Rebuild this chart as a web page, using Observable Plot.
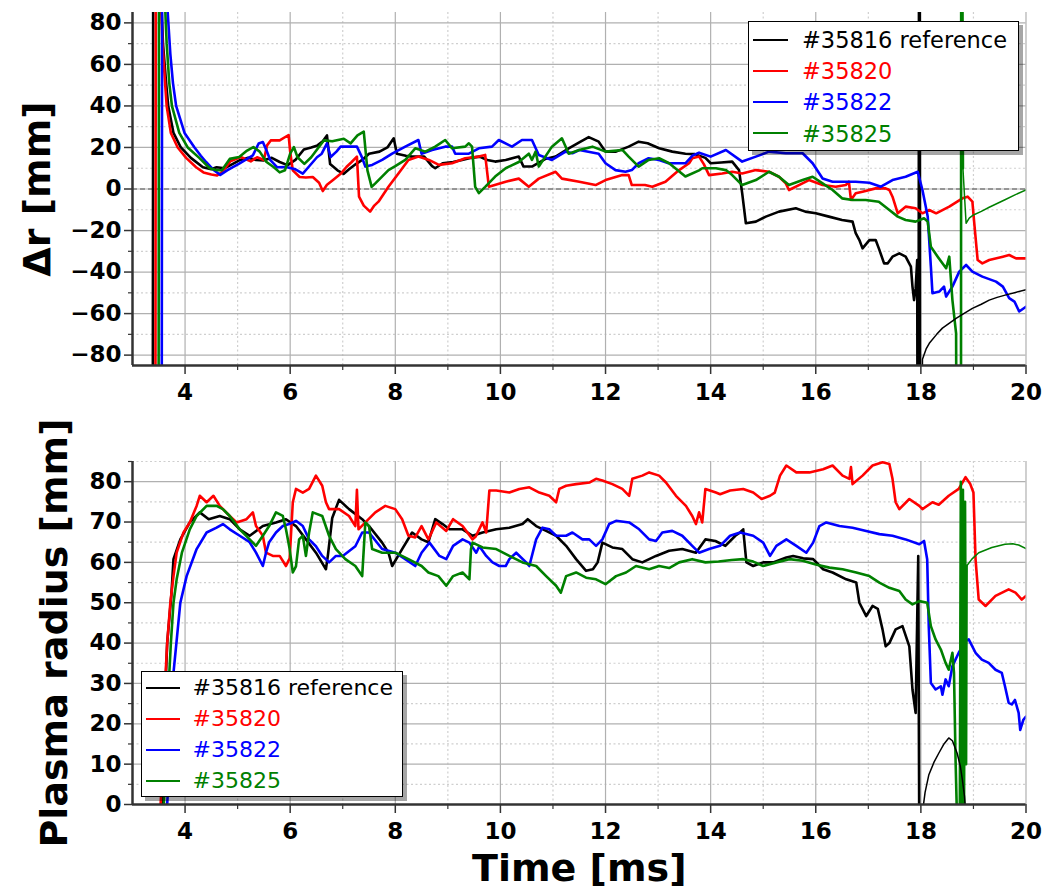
<!DOCTYPE html>
<html>
<head>
<meta charset="utf-8">
<script src="https://cdn.jsdelivr.net/npm/d3@7"></script>
<script src="https://cdn.jsdelivr.net/npm/@observablehq/plot@0.6"></script>
<style>
  body { margin: 0; background: #fff; }
  #wrap { position: relative; width: 1051px; height: 894px; background: #fff; }
  #wrap svg { display: block; overflow: visible; }
  .panel { position: absolute; left: 0; }
  .legend { position: absolute; box-sizing: border-box; background: #fff; border: 1.5px solid #000;
            box-shadow: 4px 4px 0 rgba(0,0,0,0.35); font-family: "DejaVu Sans", sans-serif; }
  .legend .ln { position: absolute; height: 2px; }
  .legend .tx { position: absolute; white-space: nowrap; }
</style>
</head>
<body>
<div id="wrap">
  <div id="top" class="panel" style="top:0"></div>
  <div id="bot" class="panel" style="top:410px"></div>
</div>
<script>
// ---------- ticks & labels ----------
const xMajor = [4, 6, 8, 10, 12, 14, 16, 18, 20];
const xMinor = [5, 7, 9, 11, 13, 15, 17, 19];
const drMajor = [-80, -60, -40, -20, 0, 20, 40, 60, 80];
const drMinor = [-70, -50, -30, -10, 10, 30, 50, 70];
const rMajor = [0, 10, 20, 30, 40, 50, 60, 70, 80];
const rMinor = [5, 15, 25, 35, 45, 55, 65, 75, 85];
const shots = ["#35816 reference", "#35820", "#35822", "#35825"];
const colors = ["#000000", "#ff0000", "#0000ff", "#008000"];

// ---------- top panel: Δr [mm] vs time [ms] ----------
const dr35816 = [[3.38,-300],[3.40,300],[3.50,120],[3.58,70],[3.64,51],[3.68,40],[3.78,27],[3.92,20],[4.11,15],[4.34,10.5],[4.5,9.5],[4.6,10.5],[4.75,10],[4.9,12],[5.05,14],[5.2,15],[5.35,14],[5.5,13.8],[5.65,15],[5.8,13],[5.95,11.5],[6.1,14],[6.26,19],[6.4,20],[6.52,21],[6.62,23],[6.7,25.8],[6.76,12],[6.9,9],[7.02,7.3],[7.12,9.5],[7.25,12],[7.37,14],[7.5,17],[7.7,18],[7.85,20],[7.97,24.4],[8.03,17],[8.2,16],[8.32,15.6],[8.55,15.6],[8.7,11],[8.76,10],[8.9,12.4],[9.1,13],[9.27,14],[9.45,15],[9.6,15.6],[9.75,14],[9.9,13.2],[10.1,14],[10.35,15.6],[10.44,10.8],[10.6,10.8],[10.85,14.4],[11.05,15.6],[11.3,19.6],[11.5,22.5],[11.68,25],[11.87,22.8],[12.0,18],[12.2,18],[12.44,20.4],[12.63,22.8],[12.8,22],[13.02,19.6],[13.27,18],[13.52,17],[13.7,16.8],[13.9,15],[14.0,12.4],[14.2,12.8],[14.41,13.2],[14.54,9.1],[14.6,-2],[14.67,-16.5],[14.86,-15.7],[15.05,-13.3],[15.3,-10.9],[15.62,-9.3],[15.8,-10.9],[16.0,-11.7],[16.25,-13.3],[16.5,-14.9],[16.7,-15.7],[16.76,-21.3],[16.83,-24.6],[16.89,-28.6],[17.02,-24.6],[17.14,-24.6],[17.2,-28.6],[17.3,-35.8],[17.37,-35.8],[17.46,-32.6],[17.59,-31],[17.71,-32.6],[17.81,-37.4],[17.84,-47],[17.87,-53.5],[17.9,-48],[17.93,-34.2],[17.95,-300],[17.97,300],[17.99,-300]];
const dr35816Tail = [[18.0,-300],[18.03,-82],[18.1,-77],[18.16,-74.3],[18.3,-70],[18.41,-67],[18.55,-64.5],[18.67,-62.3],[18.8,-60.3],[18.98,-57.5],[19.15,-55.5],[19.3,-53.5],[19.45,-52.2],[19.62,-51],[19.8,-49.8],[20.0,-48.5]];
const dr35820 = [[3.43,-300],[3.45,300],[3.52,110],[3.57,70],[3.62,51],[3.65,40],[3.73,27],[3.86,20],[4.02,15],[4.21,10.5],[4.35,8],[4.5,7],[4.61,6.5],[4.7,8],[4.86,13.3],[5.06,15.4],[5.25,13.3],[5.37,15.3],[5.5,14],[5.56,21],[5.63,23.4],[5.8,23.4],[5.97,26],[6.0,18],[6.05,9],[6.18,5.8],[6.3,5.5],[6.43,5.8],[6.55,3],[6.62,-1],[6.7,2],[6.81,4.2],[6.96,7.3],[7.07,10.6],[7.17,13],[7.27,15.6],[7.31,-3.7],[7.4,-8],[7.52,-10.9],[7.6,-8],[7.68,-6.1],[7.87,1.1],[8.06,7.5],[8.25,14],[8.44,15.6],[8.64,14],[8.83,11.6],[9.08,12.4],[9.33,14.8],[9.59,15.6],[9.71,16.4],[9.78,1.1],[10.1,3.5],[10.35,5],[10.54,1.1],[10.73,5],[11.05,8.3],[11.17,5],[11.5,3.5],[11.81,1.9],[12.0,4.3],[12.32,6.7],[12.44,6.7],[12.5,1.9],[12.75,1.9],[12.89,1.1],[13.14,3.5],[13.4,9.1],[13.59,12.4],[13.65,14.8],[13.78,15.6],[13.87,12],[13.97,6.7],[14.22,7.5],[14.41,8.3],[14.6,7.5],[14.86,9.1],[15.11,8.3],[15.3,5.9],[15.43,2.7],[15.49,-0.5],[15.68,1.9],[15.87,4.3],[16.13,1.9],[16.38,1.1],[16.57,1.9],[16.63,3.5],[16.67,-5.3],[16.76,-2.1],[16.89,-1.3],[17.14,0.3],[17.33,0.3],[17.4,-0.5],[17.46,-3.7],[17.56,-11.7],[17.71,-8.5],[17.9,-9.3],[18.03,-11.7],[18.16,-10.1],[18.29,-11.7],[18.54,-8.5],[18.79,-4.5],[18.89,-3.7],[18.98,-6.1],[19.01,-14.9],[19.08,-34.2],[19.17,-35.8],[19.3,-34.2],[19.56,-32.6],[19.68,-31.8],[19.81,-33.4],[20.0,-33.4]];
const dr35822 = [[3.55,-300],[3.57,300],[3.64,110],[3.67,85],[3.72,65],[3.77,51],[3.83,40],[3.99,27],[4.18,20],[4.3,16],[4.4,13],[4.55,9],[4.67,6.8],[4.8,9],[5.03,12.2],[5.29,16.2],[5.4,21.9],[5.48,22.6],[5.55,18.6],[5.62,14],[5.75,10.5],[5.92,10.6],[6.1,9.5],[6.24,7.4],[6.35,10.6],[6.51,15.3],[6.6,17],[6.7,22],[6.77,15.4],[6.88,18],[6.96,20.4],[7.15,20.4],[7.27,20.4],[7.36,15.6],[7.43,10.8],[7.56,11.6],[7.75,14],[7.94,17],[8.19,20.4],[8.44,23.6],[8.5,17],[8.7,18.8],[8.95,20.4],[9.08,20.4],[9.14,17],[9.4,17],[9.59,19.6],[9.84,20.4],[9.97,23.6],[10.22,20.4],[10.41,23.6],[10.6,23.6],[10.73,16.4],[10.98,14],[11.24,18],[11.37,17.2],[11.5,18.8],[11.87,17],[12.0,12.4],[12.19,9.1],[12.38,8.3],[12.5,9.1],[12.63,12.4],[12.82,14.8],[13.02,14],[13.2,12.4],[13.52,12.4],[13.65,16],[13.78,17.5],[14.0,15.6],[14.29,18.8],[14.6,13.2],[14.86,15.6],[15.11,18],[15.43,17.2],[15.75,17.2],[15.94,12.4],[16.13,5.1],[16.32,3.5],[16.57,3.5],[16.76,3.5],[17.02,3],[17.24,1.1],[17.46,4.3],[17.71,5.9],[17.94,8.3],[18.03,-0.5],[18.13,-13.3],[18.19,-37.4],[18.22,-50.2],[18.35,-49.4],[18.44,-47],[18.48,-51.8],[18.6,-47],[18.73,-39.8],[18.86,-36.6],[18.98,-39.8],[19.17,-42.2],[19.43,-44.6],[19.56,-47],[19.68,-52.6],[19.78,-54.2],[19.87,-59],[20.0,-56.7]];
const dr35825 = [[3.49,-300],[3.51,300],[3.6,100],[3.65,70],[3.70,51],[3.75,40],[3.89,27],[4.05,20],[4.27,15],[4.47,10],[4.6,9],[4.7,9],[4.85,14.5],[5.03,15.4],[5.18,18.5],[5.3,20.2],[5.42,18],[5.55,13],[5.69,10.5],[5.8,8],[5.9,9],[6.0,17],[6.07,20.2],[6.14,15.3],[6.27,12.1],[6.4,15.3],[6.64,23.4],[6.8,23],[7.02,24.2],[7.15,22],[7.28,25.8],[7.4,27.6],[7.47,9],[7.55,1],[7.62,2.7],[7.87,9.1],[8.0,11],[8.19,14],[8.38,19.6],[8.57,18],[8.76,20.4],[8.95,23.6],[9.08,19.6],[9.33,20.4],[9.4,22],[9.46,20.4],[9.52,1],[9.59,-2],[9.71,1],[9.9,6],[10.1,10],[10.35,13],[10.54,17],[10.6,14],[10.67,18],[10.73,10.8],[10.98,20.4],[11.17,24.4],[11.3,17],[11.5,18.8],[11.75,20.4],[12.0,18],[12.32,18.8],[12.44,15.6],[12.63,10.8],[12.82,14],[13.02,14.8],[13.21,12.4],[13.52,6],[13.78,9],[13.84,10],[14.1,10],[14.29,9.1],[14.41,6.7],[14.6,1.9],[14.86,4.3],[15.11,8.3],[15.3,5.9],[15.49,1.9],[15.75,4.3],[15.94,5.9],[16.13,2.7],[16.32,-0.5],[16.5,-4.5],[16.7,-5.3],[16.95,-5.3],[17.2,-6.1],[17.4,-10.1],[17.56,-13.3],[17.71,-14.9],[17.9,-15.7],[18.06,-14.1],[18.13,-15.7],[18.19,-27.8],[18.32,-32.6],[18.41,-35.8],[18.48,-38.2],[18.54,-32.6],[18.6,-53.5],[18.67,-69.5],[18.7,-300],[18.76,-300],[18.77,300],[18.80,10]];
const dr35825Tail = [[18.80,10],[18.86,-16.5],[18.92,-14],[19.0,-12.5],[19.15,-10.8],[19.3,-8.8],[19.45,-7],[19.6,-5.2],[19.8,-2.7],[20.0,-0.5]];

// ---------- bottom panel: plasma radius [mm] vs time [ms] ----------
const r35816 = [[3.55,-10],[3.6,20],[3.66,40],[3.74,52],[3.78,60.8],[3.91,65.7],[4.09,69.9],[4.28,72.4],[4.45,70.7],[4.66,71.5],[4.85,70.7],[5.04,68.2],[5.23,66.6],[5.48,69],[5.73,69.9],[5.92,70.7],[6.11,69],[6.3,65.7],[6.49,62.4],[6.68,58.3],[6.72,62],[6.8,71],[6.93,75.5],[7.12,73.2],[7.37,70.7],[7.5,69],[7.75,64.9],[7.87,62.4],[7.94,59.1],[8.13,63.3],[8.32,67.4],[8.5,65.7],[8.63,65],[8.76,70.7],[8.9,69.5],[9.03,68.2],[9.28,68.2],[9.47,66.6],[9.66,67.4],[9.92,68.2],[10.17,68.6],[10.42,69.5],[10.52,70.7],[10.68,69],[10.87,67.8],[11.06,66.6],[11.25,64.1],[11.44,60.8],[11.63,57.9],[11.76,58.3],[11.85,60],[11.94,64.9],[12.13,63.7],[12.32,63.3],[12.51,60.8],[12.7,60],[12.96,61.6],[13.21,62.9],[13.46,63.3],[13.72,62.4],[13.9,65.7],[14.09,65.3],[14.28,64.1],[14.47,66.6],[14.56,67.4],[14.62,68.2],[14.65,64],[14.68,60],[14.81,59.1],[15.0,60],[15.19,60],[15.44,61.2],[15.57,61.6],[15.76,61],[15.95,60.8],[16.14,58.3],[16.32,57.5],[16.58,55.8],[16.77,55],[16.83,50],[16.96,46.7],[17.08,49.2],[17.18,48.5],[17.27,43.4],[17.33,39.2],[17.4,40],[17.52,43.4],[17.65,44.2],[17.78,39.2],[17.84,28.5],[17.9,22.7],[17.93,45.9],[17.95,61.6],[17.97,-10]];
const r35816Tail = [[18.03,-2],[18.08,3],[18.15,7.3],[18.25,10.5],[18.34,12.7],[18.44,15],[18.53,16.5],[18.6,15.8],[18.69,12.7],[18.75,9.5],[18.79,6.1],[18.83,2],[18.86,-3]];
const r35820 = [[3.5,-10],[3.57,10],[3.62,30],[3.66,40],[3.72,50],[3.78,56.6],[3.84,62.4],[3.97,67.4],[4.09,69.9],[4.22,74],[4.28,76.5],[4.41,74.9],[4.54,76.5],[4.66,74],[4.85,71.5],[4.98,69.9],[5.17,70.7],[5.29,72.4],[5.35,69],[5.48,66.6],[5.54,62.4],[5.67,61.6],[5.8,61.6],[5.92,59.1],[5.99,61],[6.05,74.9],[6.11,78.2],[6.24,77.3],[6.36,78.2],[6.49,81.5],[6.61,79],[6.68,74.9],[6.74,73.2],[6.93,73.2],[7.12,71.5],[7.24,69],[7.27,78],[7.3,68.2],[7.43,69.9],[7.62,72.4],[7.81,74],[8.0,73.2],[8.13,70.7],[8.25,66.6],[8.38,66.2],[8.5,69],[8.63,65.7],[8.78,69.9],[8.97,67.8],[9.1,70.7],[9.28,69],[9.47,65.7],[9.53,66.4],[9.66,69.9],[9.73,67.4],[9.79,77.8],[9.92,77.8],[10.17,77.3],[10.36,78.2],[10.55,78.6],[10.74,77.3],[10.93,76.5],[11.06,74.9],[11.12,78.2],[11.25,79],[11.44,79.4],[11.7,79.8],[11.82,80.7],[11.94,80.3],[12.13,79.4],[12.32,78.2],[12.45,76.5],[12.51,80.7],[12.7,81.5],[12.83,82.3],[13.02,81.5],[13.15,79.8],[13.34,76.5],[13.53,74],[13.65,71.5],[13.72,69.5],[13.78,72.4],[13.84,69.9],[13.9,78.2],[14.1,77.3],[14.18,76.9],[14.37,77.8],[14.62,78.2],[14.81,77.3],[14.97,75.7],[15.13,76.5],[15.22,77.3],[15.32,81.5],[15.44,84],[15.63,82.3],[15.88,82.3],[16.14,83.1],[16.32,84],[16.51,81.5],[16.64,80.7],[16.67,83.6],[16.7,79.4],[16.89,81.5],[17.08,84],[17.27,84.8],[17.4,84.4],[17.46,80.7],[17.52,74.9],[17.59,73.2],[17.78,75.7],[17.97,74],[18.03,73.2],[18.22,74.9],[18.34,74.3],[18.53,76.5],[18.72,78.2],[18.85,81.1],[18.94,79.4],[19.0,77.3],[19.04,60.8],[19.1,50.8],[19.23,49.2],[19.42,51.7],[19.67,53.3],[19.8,52.5],[19.92,50.8],[20.0,51.7]];
const r35822 = [[3.62,-10],[3.7,10],[3.76,30],[3.85,42],[3.91,50],[4.03,56.6],[4.22,63.3],[4.41,67.4],[4.6,68.6],[4.72,69.5],[4.85,68.2],[5.04,66.6],[5.23,65],[5.35,62.4],[5.48,59.1],[5.54,62.4],[5.6,65],[5.73,67.4],[5.86,69],[5.98,69.5],[6.11,70.3],[6.24,69],[6.36,65.7],[6.49,64],[6.61,61.6],[6.74,60],[6.87,61.6],[7.0,61.6],[7.24,64],[7.37,67.4],[7.5,67.4],[7.75,63.3],[8.0,62.4],[8.19,60.8],[8.38,59.1],[8.5,62.4],[8.65,64.9],[8.84,61.6],[8.97,60.8],[9.1,64.1],[9.28,65.7],[9.41,64.9],[9.54,62.4],[9.6,64],[9.73,61.6],[9.85,60],[9.98,59.1],[10.1,59.1],[10.17,60.8],[10.3,62.4],[10.49,60],[10.55,59.1],[10.68,65.7],[10.8,68.6],[10.93,68.2],[11.06,66.6],[11.25,66.6],[11.37,67.4],[11.56,65.7],[11.69,65.7],[11.82,64.1],[11.94,65.7],[12.07,69.5],[12.2,70.3],[12.45,69.9],[12.64,68.2],[12.83,65.7],[12.96,65.3],[13.08,67.4],[13.27,67.8],[13.46,66.6],[13.65,64.1],[13.78,62.4],[13.97,63.3],[14.18,64.1],[14.37,66.6],[14.56,67.4],[14.81,66.6],[15.0,64.9],[15.13,61.6],[15.25,64.1],[15.44,65.7],[15.63,64.1],[15.82,62.4],[15.95,64.9],[16.07,69],[16.2,69.9],[16.45,69],[16.7,68.6],[16.96,67.8],[17.21,67],[17.46,66.6],[17.71,65.7],[17.97,64.5],[18.06,65.3],[18.12,60.8],[18.15,44.2],[18.19,30.1],[18.28,28.5],[18.38,29.3],[18.41,27.2],[18.47,31],[18.53,29.3],[18.6,34.3],[18.72,37.6],[18.85,40.5],[18.91,40.9],[19.04,37.6],[19.16,35.9],[19.29,35.1],[19.42,33.4],[19.54,32.6],[19.6,29.3],[19.67,25.2],[19.73,24.8],[19.79,25.9],[19.86,22.7],[19.89,18.5],[19.95,21],[20.0,21.8]];
const r35825 = [[3.57,-10],[3.65,20],[3.73,40],[3.78,50],[3.84,55.8],[3.94,62.4],[4.09,68.2],[4.22,71.5],[4.41,74],[4.6,74],[4.72,73.2],[4.85,71.5],[5.04,68.2],[5.23,65.7],[5.35,64.1],[5.48,66.6],[5.6,69],[5.73,72.4],[5.86,71.5],[5.92,68.2],[5.99,63.3],[6.05,57.5],[6.11,59],[6.17,65.7],[6.24,66.6],[6.3,61.6],[6.36,67.4],[6.43,72.4],[6.61,71.5],[6.74,66.6],[6.87,63.3],[7.05,60.8],[7.24,59.1],[7.37,56.6],[7.43,69.9],[7.5,69],[7.56,63.3],[7.75,62.4],[8.0,62.4],[8.25,60.8],[8.5,59.1],[8.63,57.5],[8.82,56.6],[8.97,54.2],[9.1,56.6],[9.28,57.5],[9.41,55.8],[9.44,63.3],[9.47,64.9],[9.66,63.7],[9.92,63.3],[10.17,61.6],[10.42,60],[10.68,59.1],[10.87,56.6],[11.06,54.2],[11.15,52.5],[11.25,56.6],[11.44,57.5],[11.63,56.2],[11.82,55.8],[12.0,54.6],[12.2,56.6],[12.39,57.5],[12.58,59.1],[12.83,58.3],[13.02,59.1],[13.21,58.6],[13.4,60],[13.65,60.8],[13.9,60],[14.15,60.2],[14.4,60.6],[14.62,60.8],[14.81,60.2],[15.0,59.1],[15.25,60],[15.5,60.8],[15.75,60.4],[16.0,59.5],[16.26,58.7],[16.51,58.3],[16.77,57.5],[17.02,56.6],[17.21,55],[17.4,53.7],[17.59,52.9],[17.71,50.8],[17.84,49.6],[17.97,50.4],[18.12,50],[18.19,44.2],[18.28,40.9],[18.38,38.4],[18.47,35.1],[18.53,33.4],[18.6,37.6],[18.63,32.6],[18.66,11.1],[18.69,-5],[18.74,-5],[18.76,80],[18.78,-5],[18.8,78],[18.82,-5],[18.84,75],[18.86,10],[18.87,59.1]];
const r35825Tail = [[18.87,59.1],[18.97,60.8],[19.1,62.4],[19.35,63.7],[19.6,64.5],[19.75,64.6],[19.86,64.3],[20.0,63.4]];

// ---------- drawing ----------
const fx = d => d[0], fy = d => d[1];
const fmt = d3.format("d");
const spine = "#333333";

function panel({height, marginTop, marginBottom, yDomain, yMajor, yMinor, series, tails, zero, yLabel, yLabelDx, xLabel}) {
  const marks = [
    Plot.gridX(xMinor, {stroke: "#cfcfcf", strokeOpacity: 1, strokeWidth: 1.2, strokeDasharray: "2,2.5"}),
    Plot.gridY(yMinor, {stroke: "#cfcfcf", strokeOpacity: 1, strokeWidth: 1.2, strokeDasharray: "2,2.5"}),
    Plot.gridX(xMajor, {stroke: "#b0b0b0", strokeOpacity: 1, strokeWidth: 1.2}),
    Plot.gridY(yMajor, {stroke: "#b0b0b0", strokeOpacity: 1, strokeWidth: 1.2})
  ];
  if (zero) marks.push(Plot.ruleY([0], {stroke: "#555", strokeWidth: 1, strokeDasharray: "5,3"}));
  series.forEach((s, i) => marks.push(Plot.line(s, {x: fx, y: fy, stroke: colors[i], strokeWidth: 2.6, strokeLinejoin: "round", clip: true})));
  tails.forEach(([s, i]) => marks.push(Plot.line(s, {x: fx, y: fy, stroke: colors[i], strokeWidth: 1.5, clip: true})));
  marks.push(
    Plot.ruleX([3], {stroke: spine, strokeWidth: 2.5}),
    Plot.ruleY([yDomain[0]], {stroke: spine, strokeWidth: 2.5}),
    Plot.axisX(xMajor, {tickSize: 9, tickPadding: 9, stroke: spine, strokeWidth: 1.5, tickFormat: fmt, label: null}),
    Plot.axisX(xMinor, {tickSize: 5, tickPadding: 0, stroke: spine, strokeWidth: 1.2, tickFormat: () => "", label: null}),
    Plot.axisY(yMajor, {tickSize: 8, tickPadding: 3, stroke: spine, strokeWidth: 1.5, tickFormat: fmt, label: null}),
    Plot.axisY(yMinor, {tickSize: 4, tickPadding: 0, stroke: spine, strokeWidth: 1.2, tickFormat: () => "", label: null}),
    Plot.text([yLabel], {frameAnchor: "left", dx: yLabelDx, rotate: -90, textAnchor: "middle", lineAnchor: "bottom",
                         fontSize: 38, fontWeight: "bold", fontFamily: "DejaVu Sans", fill: "#000"})
  );
  if (xLabel) marks.push(Plot.text([xLabel], {frameAnchor: "bottom", dy: 76, textAnchor: "middle", lineAnchor: "bottom",
                         fontSize: 38, fontWeight: "bold", fontFamily: "DejaVu Sans", fill: "#000"}));
  return Plot.plot({
    width: 1051, height, marginLeft: 132, marginRight: 25.5, marginTop, marginBottom,
    style: {fontFamily: "DejaVu Sans", fontSize: "23px", fontWeight: "bold", color: "#000", background: "#fff", overflow: "visible"},
    x: {domain: [3, 20]},
    y: {domain: yDomain},
    marks
  });
}

document.getElementById("top").append(panel({
  height: 410, marginTop: 12, marginBottom: 45, yDomain: [-85, 85], yMajor: drMajor, yMinor: drMinor,
  series: [dr35816, dr35820, dr35822, dr35825], tails: [[dr35816Tail, 0], [dr35825Tail, 3]],
  zero: true, yLabel: "Δr [mm]", yLabelDx: -83
}));
document.getElementById("bot").append(panel({
  height: 484, marginTop: 51, marginBottom: 90, yDomain: [0, 85], yMajor: rMajor, yMinor: rMinor,
  series: [r35816, r35820, r35822, r35825], tails: [[r35816Tail, 0], [r35825Tail, 3]],
  zero: false, yLabel: "Plasma radius [mm]", yLabelDx: -66, xLabel: "Time [ms]"
}));

// ---------- legends ----------
function legend({left, top, width, height, first, step, lx0, lx1, tx, fs}) {
  const box = document.createElement("div");
  box.className = "legend";
  Object.assign(box.style, {left: left + "px", top: top + "px", width: width + "px", height: height + "px", fontSize: fs + "px"});
  shots.forEach((name, i) => {
    const c = first + i * step;
    const ln = document.createElement("div");
    ln.className = "ln";
    Object.assign(ln.style, {left: lx0 + "px", width: (lx1 - lx0) + "px", top: (c - 1) + "px", background: colors[i]});
    const t = document.createElement("div");
    t.className = "tx";
    t.textContent = name;
    Object.assign(t.style, {left: tx + "px", top: (c - 0.48 * fs) + "px", lineHeight: fs + "px", color: colors[i]});
    box.append(ln, t);
  });
  document.getElementById("wrap").append(box);
}
legend({left: 748, top: 21, width: 271, height: 130, first: 17.5, step: 31.3, lx0: 4, lx1: 39, tx: 53, fs: 22.5});
legend({left: 141, top: 671, width: 262, height: 126, first: 15.5, step: 31, lx0: 3.5, lx1: 38, tx: 50.5, fs: 22});
</script>
</body>
</html>
